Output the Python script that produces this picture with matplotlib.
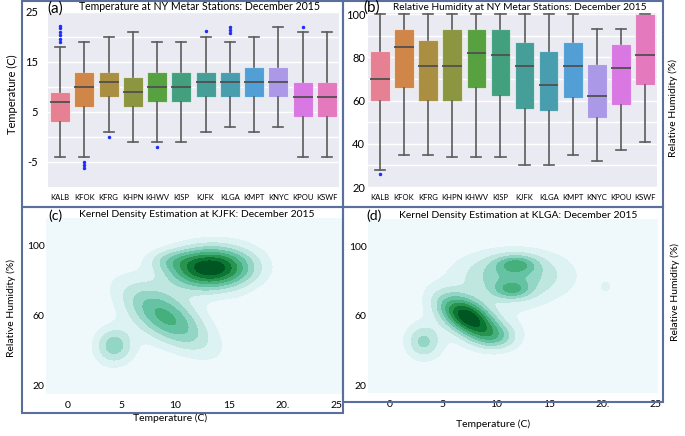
'''
NY Metar stations, December 2015: temperature / humidity boxplots and KDE panels
'''

import numpy as np
import matplotlib
matplotlib.use('Agg')
import matplotlib.pyplot as plt
from matplotlib.patches import Rectangle
import seaborn as sns

# station names
stations = ['KALB', 'KFOK', 'KFRG', 'KHPN', 'KHWV', 'KISP',
            'KJFK', 'KLGA', 'KMPT', 'KNYC', 'KPOU', 'KSWF']

# (a) temperature box statistics (C)
t_whislo = [-4, -4, 1, -1, -1, -1, 1, 2, 1, 2, -4, -4]
t_q1 = [3, 6, 8, 6, 7, 7, 8, 8, 8, 8, 4, 4]
t_med = [7, 10, 11, 9, 10, 10, 11, 11, 11, 11, 8, 8]
t_q3 = [9, 13, 13, 12, 13, 13, 13, 13, 14, 14, 11, 11]
t_whishi = [18, 19, 20, 21, 19, 19, 20, 19, 20, 22, 21, 21]
t_fliers = [[18.9, 19.6, 20.3, 21.0, 21.7, 22.2], [-5.0, -5.7, -6.3], [0], [], [-2], [],
            [21.2], [20.8, 21.4, 22.0], [], [], [22], []]

# (b) relative humidity box statistics (%)
h_whislo = [28, 35, 35, 34, 34, 34, 30, 30, 35, 32, 37, 41]
h_q1 = [60, 66, 60, 60, 66, 62, 56, 55, 61, 52, 58, 67]
h_med = [70, 85, 76, 76, 82, 81, 76, 67, 76, 62, 75, 81]
h_q3 = [83, 93, 88, 93, 93, 93, 87, 83, 87, 77, 86, 100]
h_whishi = [100, 100, 100, 100, 100, 100, 100, 100, 100, 93, 93, 100]
h_fliers = [[26], [], [], [], [], [], [], [], [], [], [], []]

# (c), (d) density bumps: centre T, centre RH, sd T, sd RH, corr, height
jfk_t = [13.3, 9.5, 9.2, 4.3, 10.0, 16.7]
jfk_rh = [87.5, 92.0, 59.0, 43.0, 68.0, 63.0]
jfk_st = [2.7, 1.5, 2.9, 1.2, 5.2, 1.2]
jfk_srh = [8.0, 4.0, 13.5, 7.2, 27.0, 6.0]
jfk_rho = [0.0, 0.0, -0.68, 0.0, 0.78, 0.0]
jfk_amp = [1.0, 0.16, 0.55, 0.38, 0.085, 0.07]

lga_t = [7.4, 10.0, 11.5, 11.9, 11.5, 3.2, 20.3, 9.0]
lga_rh = [59.0, 48.0, 84.0, 90.0, 75.0, 45.0, 77.0, 62.0]
lga_st = [1.87, 1.5, 3.5, 1.3, 1.2, 1.1, 0.45, 5.5]
lga_srh = [8.6, 5.0, 9.5, 3.5, 3.5, 6.8, 2.8, 20.0]
lga_rho = [-0.55, 0.0, 0.0, 0.0, 0.0, 0.0, 0.0, 0.4]
lga_amp = [1.0, 0.25, 0.42, 0.33, 0.33, 0.35, 0.14, 0.11]

W, H = 685, 436
plt.rcParams['font.family'] = ['Lato', 'DejaVu Sans']
fig = plt.figure(figsize=(W / 100, H / 100), dpi=100)


def px_axes(x0, y0, x1, y1):
    return fig.add_axes([x0 / W, 1 - y1 / H, (x1 - x0) / W, (y1 - y0) / H])


def ftxt(x, y, s, **kw):
    fig.text(x / W, 1 - y / H, s, ha='center', va='center', **kw)


palette = [sns.desaturate(c, 0.75) for c in sns.color_palette('husl', len(stations))]


def box_panel(ax, lo, q1, med, q3, hi, fl):
    stats = [dict(whislo=lo[i], q1=q1[i], med=med[i], q3=q3[i], whishi=hi[i], fliers=fl[i])
             for i in range(len(stations))]
    ax.set_facecolor('#eaeaf2')
    ax.grid(axis='y', color='white', lw=1)
    ax.set_axisbelow(True)
    res = ax.bxp(stats, positions=range(len(stations)), widths=0.82, capwidths=0.42,
                 patch_artist=True,
                 boxprops=dict(edgecolor=(1, 1, 1, 0.6), lw=0.8),
                 whiskerprops=dict(color='#5c5c5c', lw=1.2),
                 capprops=dict(color='#5c5c5c', lw=1.2),
                 medianprops=dict(color='#505050', lw=1.3),
                 flierprops=dict(marker='o', markersize=1.5, markerfacecolor='#1f2dff',
                                 markeredgecolor='#1f2dff', linestyle='none'))
    for patch, c in zip(res['boxes'], palette):
        patch.set_facecolor(c)
    ax.set_xlim(-0.5, len(stations) - 0.5)
    ax.set_xticks(range(len(stations)))
    ax.set_xticklabels(stations, fontsize=5.5)
    ax.tick_params(length=0)
    ax.tick_params(axis='x', pad=5)
    for s in ax.spines.values():
        s.set_visible(False)


# (a) temperature
ax_a = px_axes(48, 12, 339, 187)
box_panel(ax_a, t_whislo, t_q1, t_med, t_q3, t_whishi, t_fliers)
ax_a.set_ylim(-10, 25)
ax_a.set_yticks([-5, 0, 5, 10, 15, 20, 25])
ax_a.set_yticklabels(['-5', '', '5', '', '15', '', '25'], fontsize=8)
ax_a.tick_params(axis='y', pad=7)

# (b) humidity
ax_b = px_axes(368, 13, 657, 187)
box_panel(ax_b, h_whislo, h_q1, h_med, h_q3, h_whishi, h_fliers)
ax_b.set_ylim(20, 100.5)
ax_b.set_yticks([20, 30, 40, 50, 60, 70, 80, 90, 100])
ax_b.set_yticklabels(['20', '', '40', '', '60', '', '80', '', '100'], fontsize=8)
ax_b.tick_params(axis='y', pad=2)


def kde_panel(ax, ct, crh, st, srh, rho, amp, xlim):
    tt = np.linspace(xlim[0], xlim[1], 300)
    rr = np.linspace(15, 116, 300)
    T, R = np.meshgrid(tt, rr)
    Z = np.zeros_like(T)
    for i in range(len(ct)):
        dx = (T - ct[i]) / st[i]
        dy = (R - crh[i]) / srh[i]
        q = (dx ** 2 - 2 * rho[i] * dx * dy + dy ** 2) / (1 - rho[i] ** 2)
        Z += amp[i] * np.exp(-0.5 * q)
    levels = np.linspace(0, Z.max() * 1.001, 10)
    ax.contourf(T, R, Z, levels=levels, cmap='BuGn')
    ax.set_xlim(*xlim)
    ax.set_ylim(15.4, 116)
    ax.set_xticks([0, 5, 10, 15, 20, 25])
    ax.set_xticklabels(['0', '5', '10', '15', '20.', '25'], fontsize=7.5)
    ax.set_yticks([20, 60, 100])
    ax.set_yticklabels(['20', '60', '100'], fontsize=7.5)
    ax.tick_params(length=0)
    ax.tick_params(axis='x', pad=5)
    ax.tick_params(axis='y', pad=1)
    for s in ax.spines.values():
        s.set_visible(False)


ax_c = px_axes(46, 218, 343, 394)
kde_panel(ax_c, jfk_t, jfk_rh, jfk_st, jfk_srh, jfk_rho, jfk_amp, (-2, 25.6))

ax_d = px_axes(368, 219, 658, 393)
kde_panel(ax_d, lga_t, lga_rh, lga_st, lga_srh, lga_rho, lga_amp, (-2, 25.2))

# panel frames
frame_col = '#5b6f9f'
for x0, y0, x1, y1 in [(22, 1, 343, 207), (343, 1, 663, 207), (22, 207, 343, 413), (343, 207, 663, 402)]:
    fig.add_artist(Rectangle((x0 / W, 1 - y1 / H), (x1 - x0) / W, (y1 - y0) / H,
                             transform=fig.transFigure, fill=False, ec=frame_col, lw=1.5))

# titles and labels
ftxt(200, 7, 'Temperature at NY Metar Stations: December 2015', fontsize=7.6)
ftxt(55, 9, '(a)', fontsize=11)
ftxt(520, 7, 'Relative Humidity at NY Metar Stations: December 2015', fontsize=7.3)
ftxt(372, 8, '(b)', fontsize=11)
ftxt(197, 214, 'Kernel Density Estimation at KJFK: December 2015', fontsize=7.5)
ftxt(55, 216, '(c)', fontsize=10)
ftxt(518, 215, 'Kernel Density Estimation at KLGA: December 2015', fontsize=7.5)
ftxt(374, 216, '(d)', fontsize=10)

ftxt(12, 94, 'Temperature (C)', fontsize=8, rotation=90)
ftxt(673, 108, 'Relative Humidity (%)', fontsize=7.5, rotation=90)
ftxt(11, 308, 'Relative Humidity (%)', fontsize=7.5, rotation=90)
ftxt(675, 292, 'Relative Humidity (%)', fontsize=7.5, rotation=90)
ftxt(170, 418, 'Temperature (C)', fontsize=7.5)
ftxt(493, 424, 'Temperature (C)', fontsize=7.5)

fig.savefig('out.png', dpi=100)
